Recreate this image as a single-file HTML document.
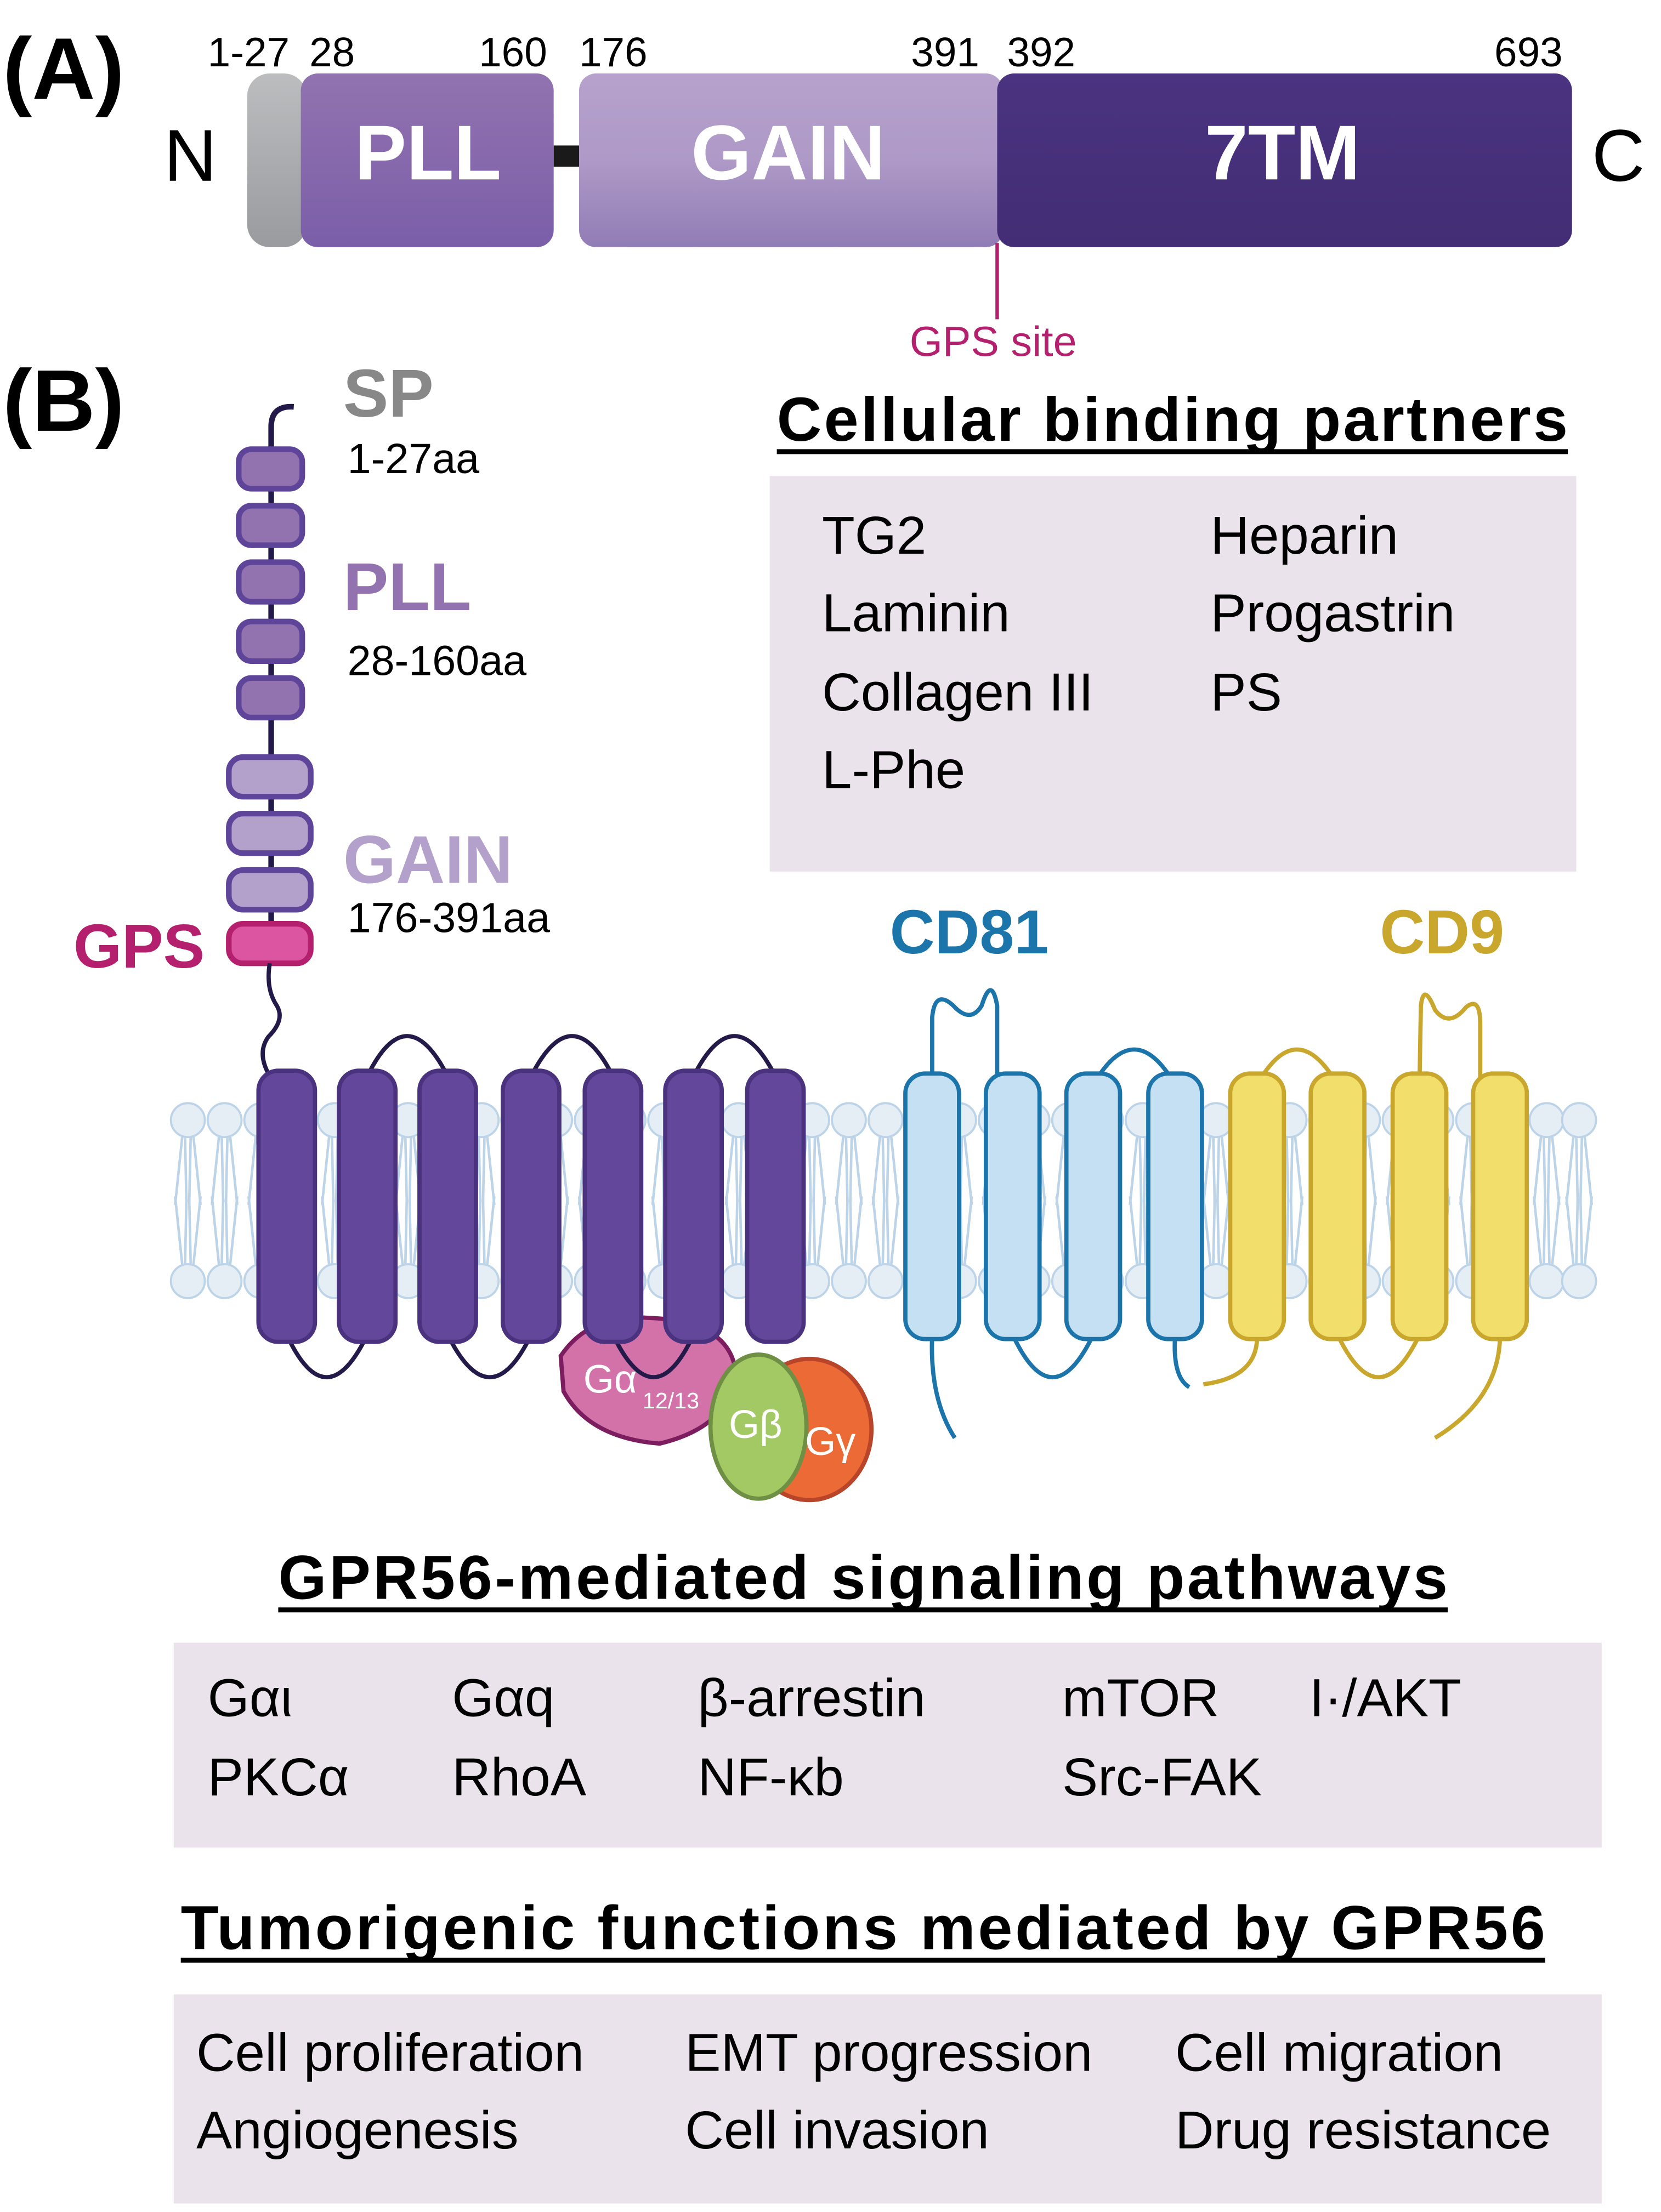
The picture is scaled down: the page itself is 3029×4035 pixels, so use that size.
<!DOCTYPE html>
<html><head><meta charset="utf-8"><style>
html,body{margin:0;padding:0;background:#fff}
svg{display:block}
text{font-family:"Liberation Sans",Arial,sans-serif}
</style></head><body>
<svg width="3029" height="4035" viewBox="0 0 1176 1566" preserveAspectRatio="none" xmlns="http://www.w3.org/2000/svg">
<defs>
<linearGradient id="gg" x1="0" y1="0" x2="0" y2="1"><stop offset="0" stop-color="#bcbdbf"/><stop offset="1" stop-color="#9a9b9e"/></linearGradient>
<linearGradient id="gp" x1="0" y1="0" x2="0" y2="1"><stop offset="0" stop-color="#9273b0"/><stop offset="1" stop-color="#7a5ea8"/></linearGradient>
<linearGradient id="ga" x1="0" y1="0" x2="0" y2="1"><stop offset="0" stop-color="#b6a2cc"/><stop offset="0.5" stop-color="#ae99c7"/><stop offset="1" stop-color="#917db5"/></linearGradient>
<linearGradient id="gt" x1="0" y1="0" x2="0" y2="1"><stop offset="0" stop-color="#4b3380"/><stop offset="1" stop-color="#432d75"/></linearGradient>
<g id="lip"><circle cx="0" cy="0" r="12" fill="#e6eef5" stroke="#bdd4e8" stroke-width="1.5"/><path d="M-4 12 Q-7 40 -9 60 M4 12 Q7 40 9 60 M-2 12 L-1 58 M2 12 L1 58" stroke="#bdd4e8" stroke-width="1.8" fill="none"/></g>
<g id="lip2"><circle cx="0" cy="0" r="12" fill="#e6eef5" stroke="#bdd4e8" stroke-width="1.5"/><path d="M-4 -12 Q-7 -40 -9 -60 M4 -12 Q7 -40 9 -60 M-2 -12 L-1 -58 M2 -12 L1 -58" stroke="#bdd4e8" stroke-width="1.8" fill="none"/></g>
</defs>

<!-- (A) -->
<text x="2" y="70" font-size="62" font-weight="bold">(A)</text>
<g font-size="29">
<text x="147" y="47">1-27</text><text x="219" y="47">28</text><text x="339" y="47">160</text><text x="410" y="47">176</text>
<text x="645" y="47">391</text><text x="713" y="47">392</text><text x="1058" y="47">693</text>
</g>
<text x="116" y="128" font-size="52">N</text>
<text x="1127" y="128" font-size="52">C</text>
<rect x="175" y="52" width="42" height="123" rx="16" fill="url(#gg)"/>
<rect x="392" y="103" width="20" height="15" fill="#1a1a1a"/>
<rect x="213" y="52" width="179" height="123" rx="12" fill="url(#gp)"/>
<rect x="410" y="52" width="300" height="123" rx="12" fill="url(#ga)"/>
<rect x="706" y="52" width="407" height="123" rx="12" fill="url(#gt)"/>
<g fill="#fff" font-weight="bold" font-size="55" text-anchor="middle">
<text x="303" y="127">PLL</text><text x="558" y="127">GAIN</text><text x="908" y="127">7TM</text>
</g>
<line x1="706" y1="172" x2="706" y2="226" stroke="#b5206e" stroke-width="2.5"/>
<text x="644" y="252" font-size="30" fill="#b5206e">GPS site</text>

<!-- (B) -->
<text x="2" y="305" font-size="62" font-weight="bold">(B)</text>
<text x="243" y="295" font-size="48" font-weight="bold" fill="#888888">SP</text>
<text x="246" y="335" font-size="30">1-27aa</text>
<text x="243" y="432" font-size="48" font-weight="bold" fill="#9273b0">PLL</text>
<text x="246" y="478" font-size="30">28-160aa</text>
<text x="243" y="625" font-size="48" font-weight="bold" fill="#b3a0cb">GAIN</text>
<text x="246" y="660" font-size="30">176-391aa</text>
<text x="52" y="685" font-size="44" font-weight="bold" fill="#b5206e">GPS</text>

<path d="M208 288 Q192 287 192 302 L192 670" stroke="#231a4a" stroke-width="4" fill="none"/>
<g fill="#9273b0" stroke="#5f4599" stroke-width="4">
<rect x="169" y="318" width="45" height="28" rx="9"/><rect x="169" y="358" width="45" height="28" rx="9"/>
<rect x="169" y="398" width="45" height="28" rx="9"/><rect x="169" y="440" width="45" height="28" rx="9"/>
<rect x="169" y="480" width="45" height="28" rx="9"/>
</g>
<g fill="#b3a0cb" stroke="#5f4599" stroke-width="4">
<rect x="162" y="536" width="58" height="28" rx="10"/><rect x="162" y="576" width="58" height="28" rx="10"/><rect x="162" y="616" width="58" height="28" rx="10"/>
</g>
<rect x="162" y="654" width="58" height="28" rx="10" fill="#dc55a0" stroke="#b5206e" stroke-width="4"/>
<path d="M191 682 Q188 700 196 712 Q202 722 190 734 Q182 745 190 760" stroke="#231a4a" stroke-width="3" fill="none"/>

<!-- Cellular binding partners -->
<text x="550" y="312" font-size="44" font-weight="bold" textLength="560">Cellular binding partners</text>
<rect x="550" y="318" width="560" height="3.5" fill="#000"/>
<rect x="545" y="337" width="571" height="280" fill="#ebe3eb"/>
<g font-size="38">
<text x="582" y="392">TG2</text><text x="582" y="447">Laminin</text><text x="582" y="503">Collagen III</text><text x="582" y="558">L-Phe</text>
<text x="857" y="392">Heparin</text><text x="857" y="447">Progastrin</text><text x="857" y="503">PS</text>
</g>
<text x="630" y="675" font-size="44" font-weight="bold" fill="#1b75aa">CD81</text>
<text x="977" y="675" font-size="44" font-weight="bold" fill="#c9a62c">CD9</text>

<!-- membrane -->
<g>
<use href="#lip" x="133" y="793"/><use href="#lip" x="159" y="793"/><use href="#lip" x="185" y="793"/><use href="#lip" x="211" y="793"/><use href="#lip" x="237" y="793"/><use href="#lip" x="263" y="793"/><use href="#lip" x="289" y="793"/><use href="#lip" x="315" y="793"/><use href="#lip" x="341" y="793"/><use href="#lip" x="367" y="793"/><use href="#lip" x="393" y="793"/><use href="#lip" x="419" y="793"/><use href="#lip" x="445" y="793"/><use href="#lip" x="471" y="793"/><use href="#lip" x="497" y="793"/><use href="#lip" x="523" y="793"/><use href="#lip" x="549" y="793"/><use href="#lip" x="575" y="793"/><use href="#lip" x="601" y="793"/><use href="#lip" x="627" y="793"/><use href="#lip" x="653" y="793"/><use href="#lip" x="679" y="793"/><use href="#lip" x="705" y="793"/><use href="#lip" x="731" y="793"/><use href="#lip" x="757" y="793"/><use href="#lip" x="783" y="793"/><use href="#lip" x="809" y="793"/><use href="#lip" x="835" y="793"/><use href="#lip" x="861" y="793"/><use href="#lip" x="887" y="793"/><use href="#lip" x="913" y="793"/><use href="#lip" x="939" y="793"/><use href="#lip" x="965" y="793"/><use href="#lip" x="991" y="793"/><use href="#lip" x="1017" y="793"/><use href="#lip" x="1043" y="793"/><use href="#lip" x="1069" y="793"/><use href="#lip" x="1095" y="793"/><use href="#lip" x="1118" y="793"/>
<use href="#lip2" x="133" y="907"/><use href="#lip2" x="159" y="907"/><use href="#lip2" x="185" y="907"/><use href="#lip2" x="211" y="907"/><use href="#lip2" x="237" y="907"/><use href="#lip2" x="263" y="907"/><use href="#lip2" x="289" y="907"/><use href="#lip2" x="315" y="907"/><use href="#lip2" x="341" y="907"/><use href="#lip2" x="367" y="907"/><use href="#lip2" x="393" y="907"/><use href="#lip2" x="419" y="907"/><use href="#lip2" x="445" y="907"/><use href="#lip2" x="471" y="907"/><use href="#lip2" x="497" y="907"/><use href="#lip2" x="523" y="907"/><use href="#lip2" x="549" y="907"/><use href="#lip2" x="575" y="907"/><use href="#lip2" x="601" y="907"/><use href="#lip2" x="627" y="907"/><use href="#lip2" x="653" y="907"/><use href="#lip2" x="679" y="907"/><use href="#lip2" x="705" y="907"/><use href="#lip2" x="731" y="907"/><use href="#lip2" x="757" y="907"/><use href="#lip2" x="783" y="907"/><use href="#lip2" x="809" y="907"/><use href="#lip2" x="835" y="907"/><use href="#lip2" x="861" y="907"/><use href="#lip2" x="887" y="907"/><use href="#lip2" x="913" y="907"/><use href="#lip2" x="939" y="907"/><use href="#lip2" x="965" y="907"/><use href="#lip2" x="991" y="907"/><use href="#lip2" x="1017" y="907"/><use href="#lip2" x="1043" y="907"/><use href="#lip2" x="1069" y="907"/><use href="#lip2" x="1095" y="907"/><use href="#lip2" x="1118" y="907"/>
</g>

<g transform="translate(-3,0)">
<g stroke="#231a4a" stroke-width="3" fill="none">
<path d="M263 762 Q291 705 320 762"/><path d="M379 762 Q408 705 437 762"/><path d="M494 762 Q523 705 552 762"/>
<path d="M206 945 Q234 1005 263 945"/><path d="M320 945 Q350 1005 379 945"/><path d="M437 945 Q466 1005 494 945"/>
</g>
<path d="M400 960 Q420 930 462 933 Q520 935 524 972 Q520 1010 470 1022 Q420 1018 402 985 Z" fill="#d272a8" stroke="#7b1d5e" stroke-width="3"/>
<path d="M437 945 Q466 1005 494 945" stroke="#231a4a" stroke-width="3" fill="none"/>
<g fill="#62479a" stroke="#4a327e" stroke-width="3">
<rect x="186" y="758" width="40" height="192" rx="14"/><rect x="243" y="758" width="40" height="192" rx="14"/>
<rect x="300" y="758" width="40" height="192" rx="14"/><rect x="359" y="758" width="40" height="192" rx="14"/>
<rect x="417" y="758" width="40" height="192" rx="14"/><rect x="474" y="758" width="40" height="192" rx="14"/>
<rect x="532" y="758" width="40" height="192" rx="14"/>
</g>
<ellipse cx="576" cy="1012" rx="44" ry="50" fill="#ec6a35" stroke="#b8442a" stroke-width="3"/>
<ellipse cx="540" cy="1010" rx="34" ry="51" fill="#a2c964" stroke="#6f8f45" stroke-width="3"/>
<text x="416" y="986" font-size="28" fill="#fff">Gα</text><text x="458" y="997" font-size="16" fill="#fff">12/13</text>
<text x="519" y="1018" font-size="28" fill="#fff">Gβ</text>
<text x="573" y="1030" font-size="28" fill="#fff">Gγ</text>
</g>

<!-- CD81 -->
<g transform="translate(-10,0)">
<g stroke="#1b75aa" stroke-width="3" fill="none">
<path d="M670 768 L670 720 Q672 700 685 712 Q697 725 705 712 Q712 690 716 712 L716 768"/>
<path d="M784 768 Q813 718 842 768"/>
<path d="M727 945 Q755 1005 784 945"/>
<path d="M670 945 Q668 990 686 1018"/>
<path d="M842 945 Q840 975 852 982"/>
</g>
<g fill="#c5e0f2" stroke="#1b75aa" stroke-width="3">
<rect x="651" y="760" width="38" height="188" rx="14"/><rect x="708" y="760" width="38" height="188" rx="14"/>
<rect x="765" y="760" width="38" height="188" rx="14"/><rect x="823" y="760" width="38" height="188" rx="14"/>
</g>
</g>
<!-- CD9 -->
<g transform="translate(-14,0)">
<g stroke="#c9a62c" stroke-width="3" fill="none">
<path d="M904 768 Q932 718 961 768"/>
<path d="M1019 768 L1020 712 Q1022 695 1030 715 Q1040 728 1052 713 Q1062 705 1062 725 L1062 768"/>
<path d="M961 945 Q990 1005 1019 945"/>
<path d="M904 945 Q905 975 866 980"/>
<path d="M1076 945 Q1076 990 1030 1018"/>
</g>
<g fill="#f2de6a" stroke="#c9a62c" stroke-width="3">
<rect x="885" y="760" width="38" height="188" rx="14"/><rect x="942" y="760" width="38" height="188" rx="14"/>
<rect x="1000" y="760" width="38" height="188" rx="14"/><rect x="1057" y="760" width="38" height="188" rx="14"/>
</g>
</g>

<!-- Signaling -->
<text x="197" y="1132" font-size="44" font-weight="bold" textLength="828">GPR56-mediated signaling pathways</text>
<rect x="197" y="1138" width="828" height="3.5" fill="#000"/>
<rect x="123" y="1163" width="1011" height="145" fill="#ebe3eb"/>
<g font-size="38">
<text x="147" y="1215">Gαι</text><text x="320" y="1215">Gαq</text><text x="494" y="1215">β-arrestin</text><text x="752" y="1215">mTOR</text><text x="927" y="1215">I·/AKT</text>
<text x="147" y="1271">PKCα</text><text x="320" y="1271">RhoA</text><text x="494" y="1271">NF-κb</text><text x="752" y="1271">Src-FAK</text>
</g>

<!-- Tumorigenic -->
<text x="128" y="1380" font-size="44" font-weight="bold" textLength="966">Tumorigenic functions mediated by GPR56</text>
<rect x="128" y="1386" width="966" height="3.5" fill="#000"/>
<rect x="123" y="1412" width="1011" height="148" fill="#ebe3eb"/>
<g font-size="38">
<text x="139" y="1466">Cell proliferation</text><text x="485" y="1466">EMT progression</text><text x="832" y="1466">Cell migration</text>
<text x="139" y="1521">Angiogenesis</text><text x="485" y="1521">Cell invasion</text><text x="832" y="1521">Drug resistance</text>
</g>
</svg>
</body></html>
